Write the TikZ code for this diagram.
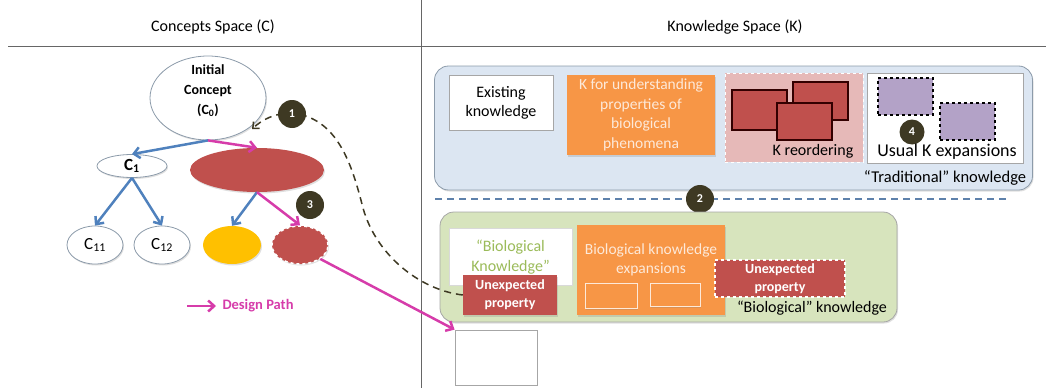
\documentclass[tikz,border=0pt]{standalone}
\usepackage{fontspec}
\setmainfont{Carlito}
\usetikzlibrary{arrows.meta,shapes.geometric,shadows}
\definecolor{redc}{RGB}{192,80,77}
\definecolor{orangec}{RGB}{247,150,70}
\definecolor{peach}{RGB}{253,233,217}
\definecolor{bluec}{RGB}{79,129,189}
\definecolor{magc}{RGB}{214,60,170}
\definecolor{badgec}{RGB}{62,57,35}
\definecolor{lblue}{RGB}{220,230,242}
\definecolor{lgreen}{RGB}{215,228,189}
\definecolor{gtext}{RGB}{155,187,89}
\definecolor{pinkc}{RGB}{230,185,184}
\definecolor{purpc}{RGB}{179,162,199}
\definecolor{ellb}{RGB}{140,155,170}
\definecolor{yelc}{RGB}{255,192,0}
\tikzset{
  shad/.style={drop shadow={opacity=0.25,shadow xshift=1pt,shadow yshift=-1.5pt}},
  wellipse/.style={ellipse,draw=ellb,line width=0.8pt,fill=white,inner sep=0pt,shad},
  badge/.style={circle,fill=badgec,text=white,font=\fontsize{12}{13}\selectfont\bfseries,minimum size=28pt,inner sep=0pt},
  bluearr/.style={draw=bluec,line width=2.5pt,-{Straight Barb[length=6pt,width=11pt]}},
  magarr/.style={draw=magc,line width=2.5pt,-{Straight Barb[length=6pt,width=11pt]}},
  box/.style={rectangle,inner sep=0pt,align=center},
  txt/.style={font=\fontsize{15.5}{19}\selectfont},
  btxt/.style={font=\fontsize{14}{18}\selectfont\bfseries},
}
\begin{document}
\begin{tikzpicture}[x=1pt,y=-1pt]
\useasboundingbox (0,0) rectangle (1046,388);
% headers and frame lines
\node[font=\fontsize{16}{19}\selectfont] (hc) at (213,27) {Concepts Space (C)};
\node[font=\fontsize{16}{19}\selectfont] (hk) at (735,27) {Knowledge Space (K)};
\coordinate (hl1) at (8,46); \coordinate (hl2) at (1046,46);
\coordinate (vl1) at (421,0); \coordinate (vl2) at (421,388);
\draw[gray!80!black,line width=0.8pt] (hl1) -- (hl2);
\draw[gray!80!black,line width=0.8pt] (vl1) -- (vl2);

% ---------------- Concept space ----------------
\node[wellipse,minimum width=116pt,minimum height=84pt] (ic) at (208,98) {};
\node[align=center,font=\fontsize{14}{20}\selectfont\bfseries] (ict) at (208,91) {Initial\\Concept\\(C\textsubscript{0})};
\node[wellipse,minimum width=70pt,minimum height=23pt,font=\fontsize{17}{19}\selectfont\bfseries] (c1) at (132,166) {C\textsubscript{1}};
\node[ellipse,fill=redc,minimum width=134pt,minimum height=44pt,inner sep=0pt,shad] (big) at (257,170) {};
\node[wellipse,minimum width=56pt,minimum height=38pt,font=\fontsize{17}{19}\selectfont] (c11) at (95,245) {C\textsubscript{11}};
\node[wellipse,minimum width=56pt,minimum height=38pt,font=\fontsize{17}{19}\selectfont] (c12) at (162,245) {C\textsubscript{12}};
\node[ellipse,fill=yelc,minimum width=58pt,minimum height=38pt,inner sep=0pt,shad] (yel) at (232,245) {};
\node[ellipse,fill=redc,draw=white,dashed,line width=1.5pt,minimum width=56pt,minimum height=38pt,inner sep=0pt,shad] (sred) at (300,245) {};

\draw[bluearr] (ic.south) -- (c1.north);
\draw[magarr] (ic.south) -- (big.north);
\draw[bluearr] (c1.south) -- (c11.north);
\draw[bluearr] (c1.south) -- (c12.north);
\draw[bluearr] (big.south) -- (yel.north);
\draw[magarr] (big.south) -- (sred.north);

% legend
\coordinate (lg1) at (187,306); \coordinate (lg2) at (216,306);
\draw[magarr] (lg1) -- (lg2);
\node[anchor=west,text=magc,font=\fontsize{14.5}{17}\selectfont\bfseries] (lgt) at (219,306) {Design Path};

% ---------------- Knowledge space ----------------
\node[box,draw=ellb,line width=0.8pt,fill=lblue,rounded corners=14pt,minimum width=598pt,minimum height=124pt,shad] (trad) at (733.5,128) {};
\node[box,draw=gray!70,fill=white,minimum width=104pt,minimum height=55pt,font=\fontsize{16}{19}\selectfont] (exist) at (501,102.5) {Existing\\knowledge};
\node[box,fill=orangec,text=peach,minimum width=148pt,minimum height=80pt,font=\fontsize{15.5}{19.5}\selectfont,shad] (kund) at (641,115) {K for understanding\\properties of\\biological\\phenomena};
\node[box,fill=pinkc,draw=white,dashed,line width=1pt,minimum width=138pt,minimum height=89pt] (reord) at (794,117.5) {};
\node[box,fill=redc,draw=black!80!red,line width=1.2pt,minimum width=55pt,minimum height=40pt] (r1) at (759.5,110) {};
\node[box,fill=redc,draw=black!80!red,line width=1.2pt,minimum width=55pt,minimum height=38pt] (r2) at (820.5,101) {};
\node[box,fill=redc,draw=black!80!red,line width=1.2pt,minimum width=55pt,minimum height=37pt] (r3) at (804.5,121.5) {};
\node[font=\fontsize{16}{19}\selectfont] (reordt) at (813,151) {K reordering};
\node[box,fill=white,draw=gray!70,minimum width=156pt,minimum height=90pt] (usual) at (945,118) {};
\node[box,fill=purpc,draw=black,dashed,line width=1.2pt,minimum width=55pt,minimum height=37pt] (p1) at (905.5,96.5) {};
\node[box,fill=purpc,draw=black,dashed,line width=1.2pt,minimum width=55pt,minimum height=37pt] (p2) at (967.5,121.5) {};
\node[badge,minimum size=25pt] (b4) at (912,132) {4};
\node[font=\fontsize{18}{21}\selectfont] (usualt) at (947,152) {Usual K expansions};
\node[font=\fontsize{16.5}{19}\selectfont] (tradt) at (945,178) {``Traditional'' knowledge};

% separator
\coordinate (sp1) at (435,199); \coordinate (sp2) at (1008,199);
\draw[bluec!70!gray,line width=1.2pt,dash pattern=on 7pt off 5pt] (sp1) -- (sp2);
\node[badge] (b2) at (700,199) {2};

% biological
\node[box,draw=gray!70,line width=0.8pt,fill=lgreen,rounded corners=14pt,minimum width=457pt,minimum height=110pt,shad] (bio) at (668.5,267) {};
\node[box,fill=white,draw=gray!30,minimum width=123pt,minimum height=57pt] (biok) at (510.5,256.5) {};
\node[text=gtext,align=center,font=\fontsize{16}{19.5}\selectfont] (biokt) at (510.5,257) {``Biological\\Knowledge''};
\node[box,fill=redc,text=white,btxt,minimum width=94pt,minimum height=40pt,shad] (up1) at (510,295) {Unexpected\\property};
\node[box,fill=orangec,minimum width=148pt,minimum height=90pt,shad] (bexp) at (651,270) {};
\node[text=peach,align=center,anchor=north,font=\fontsize{15.5}{19}\selectfont] (bexpt) at (651,240) {Biological knowledge\\expansions};
\node[box,fill=orangec,draw=peach,line width=1pt,minimum width=52pt,minimum height=25pt,shad] (s1) at (611,295.5) {};
\node[box,fill=orangec,draw=peach,line width=1pt,minimum width=50pt,minimum height=23pt,shad] (s2) at (675,295) {};
\node[box,fill=redc,draw=white,dashed,line width=2pt,text=white,btxt,minimum width=130pt,minimum height=37pt] (up2) at (780,278.5) {Unexpected\\property};
\node[font=\fontsize{16}{19}\selectfont] (biot) at (812,308) {``Biological'' knowledge};
\node[box,fill=white,draw=gray!70,line width=0.8pt,minimum width=82pt,minimum height=55pt] (empty) at (496,357.5) {};

% connectors across
\draw[magc,line width=2.5pt,-{Straight Barb[length=6pt,width=11pt]}] (sred.south east) -- (empty.north west);
\coordinate (tip1) at (252,129);
\draw[badgec,line width=1.5pt,dash pattern=on 7pt off 5pt,-{Straight Barb[length=5pt,width=9pt]}]
  (up1.west) .. controls (420,290) and (376,255) .. (363,208)
  .. controls (352,165) and (338,118) .. (292,113)
  .. controls (274,113) and (262,120) .. (tip1);
\node[badge] (b1) at (292,114) {1};
\node[badge] (b3) at (310,205) {3};
\end{tikzpicture}
\end{document}
